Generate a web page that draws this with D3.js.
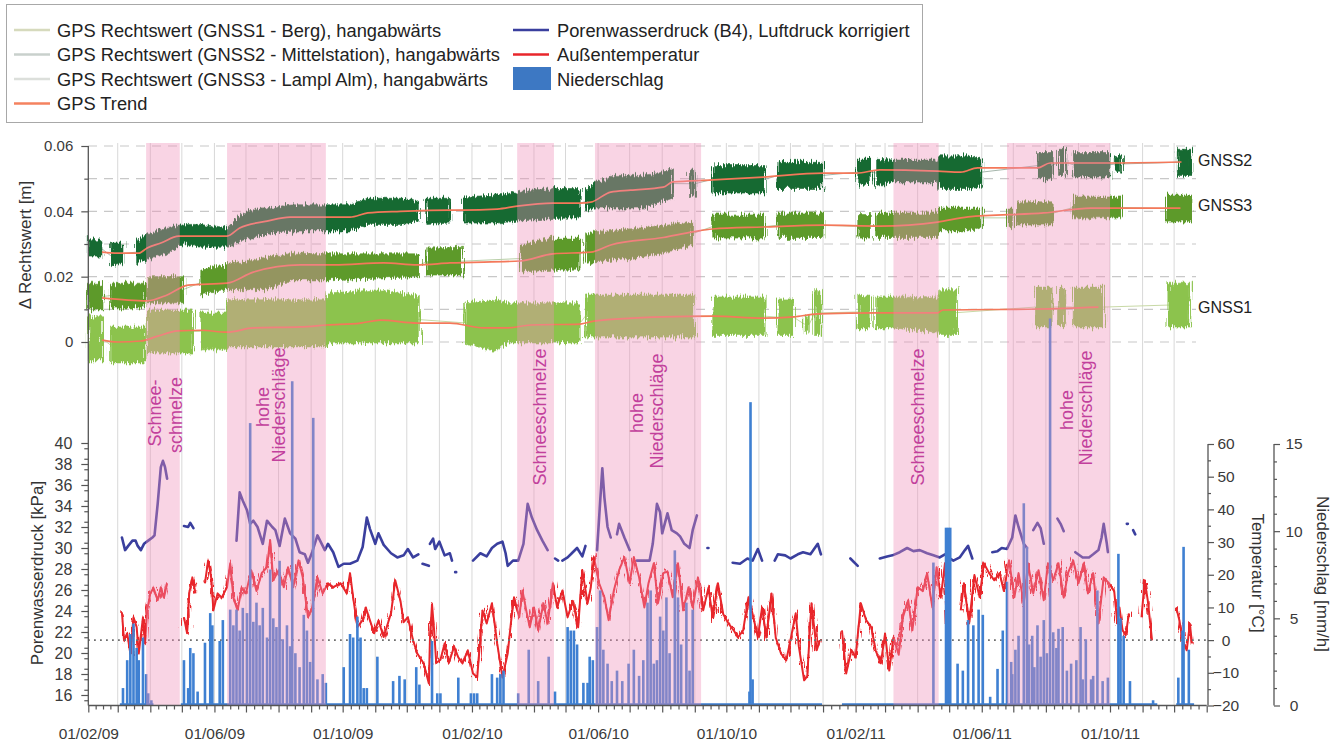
<!DOCTYPE html>
<html><head><meta charset="utf-8">
<script src="https://cdn.jsdelivr.net/npm/d3@7"></script>
<style>
body{margin:0;background:#fff;}
text{font-family:"Liberation Sans",Arial,sans-serif;}
</style>
</head><body>
<svg id="c" width="1343" height="742">
<defs>
 <filter id="bandNoise" x="-1%" y="-30%" width="102%" height="160%">
  <feTurbulence type="fractalNoise" baseFrequency="1.1 0.04" numOctaves="2" seed="4" result="n"/>
  <feDisplacementMap in="SourceGraphic" in2="n" scale="11" xChannelSelector="R" yChannelSelector="G"/>
 </filter>
 <filter id="tempNoise" x="-1%" y="-20%" width="102%" height="140%">
  <feTurbulence type="fractalNoise" baseFrequency="0.7 0.05" numOctaves="2" seed="7" result="n"/>
  <feDisplacementMap in="SourceGraphic" in2="n" scale="13" xChannelSelector="R" yChannelSelector="G"/>
 </filter>
</defs>
</svg>
<script>
// ---------------- DATA (day = days since 01/02/2009) ----------------
// GNSS bands: [day, low, high] in m, null = data gap
const gnss2Band = [[0,.026,.032],[13,.026,.031],null,[21,.023,.030],[33,.024,.030],null,
 [45,.024,.031],[56,.025,.033],[75,.027,.035],[90,.030,.036],[107,.029,.036],[132,.029,.035],[147,.031,.0395],[170,.033,.041],[195,.034,.042],[224,.034,.042],[249,.034,.042],[266,.036,.044],[297,.036,.044],[315,.037,.043],null,
 [322,.036,.044],[344,.0364,.044],null,
 [356,.0364,.0444],[389,.0364,.045],[408,.037,.046],[442,.0378,.047],[468,.038,.047],null,
 [473,.040,.046],[481,.041,.0487],[499,.041,.051],[528,.041,.051],[546,.043,.052],[556,.044,.053],null,
 [572,.0443,.0526],[577,.0443,.0526],null,[594,.0456,.054],[644,.0456,.054],null,
 [656,.047,.055],[699,.047,.055],null,[732,.048,.056],[744,.048,.056],null,
 [749,.0475,.056],[765,.049,.0557],[808,.049,.0557],[809,.047,.057],[837,.047,.057],[850,.048,.056],null,
 [903,.050,.058],[917,.050,.058],null,[923,.051,.059],[930,.051,.059],null,
 [937,.0505,.058],[972,.0505,.058],null,[977,.052,.057],[983,.052,.057],null,[1036,.051,.059],[1050,.051,.059]];
const gnss3Band = [[0,.0098,.018],[13,.0098,.018],null,[21,.0104,.018],[54,.0104,.018],null,
 [56,.012,.020],[90,.012,.020],null,
 [107,.0144,.022],[132,.016,.024],[170,.016,.026],[195,.019,.0272],[224,.019,.027],[315,.020,.027],null,
 [322,.0205,.0288],[356,.0205,.029],null,
 [411,.0214,.0297],[442,.022,.0318],[468,.022,.0318],null,
 [473,.024,.033],[481,.0245,.0337],[528,.026,.035],[556,.028,.036],[575,.0297,.0367],null,
 [594,.0318,.0389],[644,.0318,.0389],null,[656,.032,.0395],[699,.032,.0395],null,
 [732,.0318,.039],[744,.0318,.039],null,
 [749,.032,.0395],[808,.032,.0395],[809,.034,.041],[837,.034,.041],[850,.035,.041],null,
 [875,.035,.041],[880,.035,.041],null,[884,.0358,.0429],[917,.0358,.0429],null,
 [937,.038,.0444],[983,.038,.0444],null,[1025,.0367,.045],[1050,.0367,.045]];
const gnss1Band = [[0,-.0055,.0077],[13,-.0055,.0077],null,[21,-.0064,.0046],[54,-.0064,.0046],null,
 [56,-.0034,.0098],[100,-.0034,.0098],null,
 [107,-.0024,.0089],[131,-.0024,.0089],[133,-.0015,.0129],[227,-.0015,.0129],[228,-.0003,.015],[278,-.0003,.016],[315,-.0003,.014],null,
 [358,-.0003,.012],[388,-.003,.013],[398,-.0003,.012],[468,-.0003,.012],null,
 [473,.0015,.0144],[577,.0015,.0144],null,[594,.002,.0138],[644,.002,.0138],null,
 [656,.002,.0132],[671,.002,.0132],null,[681,.003,.008],[686,.003,.008],null,
 [691,.002,.0158],[697,.002,.0158],null,[732,.004,.0144],[744,.004,.014],null,
 [749,.0043,.0138],[765,.0043,.0138],[808,.003,.0135],[809,.002,.016],[827,.002,.016],null,
 [901,.0046,.0168],[917,.0046,.0168],null,[923,.005,.0165],[930,.005,.0165],null,
 [937,.0046,.0168],[966,.0046,.0168],null,[1027,.0046,.018],[1048,.0046,.018]];
// GPS trends: [day, m]
const gnss2Trend = [[13,.0275],[28,.0272],[48,.0272],[56,.0288],[69,.0303],[86,.0324],[107,.0324],[132,.0324],[144,.0349],[170,.037],[192,.0382],[224,.0382],[249,.0382],[266,.0395],[297,.040],[344,.0404],[356,.0404],[389,.0407],[408,.0416],[442,.0425],[468,.0425],[478,.0428],[497,.0459],[516,.0465],[547,.0474],[556,.049],[594,.0496],[642,.0505],[699,.0517],[731,.0517],[753,.0527],[808,.0523],[830,.052],[846,.0533],[903,.0533],[915,.0548],[966,.0548],[1040,.0551]];
const gnss3Trend = [[13,.0135],[56,.0126],[75,.0144],[95,.0174],[132,.018],[157,.0214],[202,.0236],[234,.0236],[281,.0242],[313,.0236],[344,.0242],[411,.0248],[442,.027],[478,.0275],[497,.0297],[547,.032],[575,.0337],[594,.0346],[642,.0352],[699,.0358],[753,.0355],[808,.0367],[837,.0383],[909,.0395],[954,.041],[1039,.041]];
const gnss1Trend = [[13,.0006],[28,0],[50,.0003],[66,.0018],[85,.0034],[107,.0036],[132,.003],[157,.0043],[202,.0046],[227,.0052],[259,.0058],[278,.0067],[313,.0058],[344,.0058],[376,.0043],[398,.0043],[421,.0052],[468,.0055],[481,.0064],[547,.0077],[594,.0079],[642,.0073],[671,.0077],[694,.0086],[753,.0089],[808,.0089],[813,.0098],[903,.0101],[961,.0107]];
// Porenwasserdruck [kPa]
const poreData = [[32,31.0],[35,29.8],[38,30.2],[42,30.7],[45,30.7],[47,30.2],[50,29.8],[53,30.4],[57,30.7],[61,31.0],[63,31.2],[66,34.2],[69,37.7],[71,38.3],[73,37.7],[75,36.6],null,
 [91,32.1],[95,32.0],[97,32.4],[100,31.9],null,
 [141,30.7],[144,35.3],[147,34.5],[151,33.6],[154,32.3],[157,32.6],[161,32.0],[166,30.4],[170,32.6],[175,32.0],[178,31.7],[182,30.2],[187,32.8],[192,31.4],[197,30.9],[201,29.6],[206,29.4],[209,28.6],[213,29.6],[218,31.2],[223,30.2],[225,29.8],[228,30.4],[233,29.6],[238,28.2],[243,28.5],[249,28.5],[256,28.8],[261,30.1],[265,32.9],[268,31.8],[273,30.4],[276,31.4],[281,30.3],[288,29.5],[294,29.1],[300,29.3],[304,29.9],[309,29.1],[314,29.4],null,
 [318,28.5],[324,28.3],null,
 [325,30.4],[328,30.9],[330,29.9],[334,30.6],[339,29.3],[344,29.5],[346,28.8],null,
 [349,27.7],[350,27.7],null,
 [366,28.8],[373,29.5],[379,29.2],[384,30.0],[389,30.4],[394,30.6],[397,29.5],[399,28.3],[404,28.8],[409,28.8],[414,30.4],[418,34.2],[422,32.9],[427,31.7],[432,30.7],[437,29.8],null,
 [444,29.0],[447,28.8],null,
 [451,28.8],[456,29.1],[460,29.5],[465,30.0],[470,29.2],[473,30.2],null,
 [484,29.8],[486,32.9],[489,37.6],[491,34.8],[494,32.0],[497,31.0],null,
 [503,31.3],[505,32.3],[510,31.0],[515,29.8],null,
 [522,28.8],[527,28.8],[534,28.8],[537,30.4],[541,34.2],[544,33.4],[546,31.4],[551,33.3],[555,31.7],[560,31.4],[563,31.1],[567,30.4],[572,30.0],[575,31.7],[579,33.1],null,
 [589,30.0],[590,30.0],null,
 [613,28.6],[620,28.5],[627,29.0],[632,28.8],[637,29.9],[641,28.8],null,
 [653,28.8],[656,29.4],[663,29.3],[668,29.0],[675,29.4],[680,29.6],[687,29.4],[694,30.4],[697,29.4],null,
 [725,29.0],[732,28.3],null,
 [753,29.0],[760,29.2],[765,29.3],[772,29.6],[779,30.0],[785,29.7],[791,29.8],[798,29.5],[804,29.3],[810,29.1],[815,29.4],[818,29.1],[823,28.8],[829,29.1],[834,29.8],[837,30.2],[841,29.0],null,
 [860,29.6],[865,29.7],[869,30.0],[874,29.9],[879,31.0],[882,33.1],[885,32.0],[890,30.4],[893,30.0],null,
 [899,31.7],[903,32.4],[906,31.9],[909,30.4],null,
 [922,32.8],[925,32.3],[928,31.6],null,
 [939,29.6],[946,29.1],[952,29.1],[956,29.4],[961,29.8],[964,31.0],[966,32.3],[969,30.4],[970,29.6],null,
 [988,32.3],[989,32.3],null,[994,31.7],[996,31.3]];
// Außentemperatur [°C]
const tempData = [[32,8.5],[34,-0.1],[37,2.1],[40,-4.1],[43,7.0],[46,4],[48,-4.1],[52,7.0],[54,-1.0],[56,9.1],[59,14.3],[62,16],[66,12.2],[69,16.2],[72,13],[75,17.4],null,
 [91,7.0],[94,2.1],[96,14.3],[99,19.2],[102,14.3],null,
 [111,17.4],[114,24.4],[117,19],[119,9.1],[123,14.3],[127,13],[132,16.2],[135,23.5],[138,13],[142,9.1],[146,16],[150,14.3],[155,21.4],[160,15],[165,20.5],[170,22.3],[173,30.6],[176,18.3],[181,21.4],[186,16.2],[190,22.3],[195,16.2],[200,24.4],[204,19.2],[209,7.0],[213,10.0],[218,19.2],[223,14.3],[228,17.4],[233,16.2],[240,17.4],[246,14.3],[249,20.5],[252,13],[256,4],[261,6.1],[264,10.0],[267,7],[272,2.1],[276,6],[281,1],[288,8.2],[292,18.3],[297,12],[300,5.5],[304,7],[309,-0.1],[313,-4.1],[319,-7.1],[324,-13.3],[325,0],[327,11],[329,3],[331,-7],[335,-6],[339,-1],[343,-7],[348,-2],[352,-5.3],[356,-7.1],[361,-3.1],[366,-10.2],[370,-11.4],[375,9.1],[379,5.1],[384,11.3],[389,-1.0],[394,-11.4],[399,-4.1],[402,5.1],[405,13.1],[410,7.0],[413,15.2],[417,8.5],[420,3.9],[424,10.0],[428,3.0],[433,11.3],[437,5],[442,17.4],[446,10.0],[451,15.2],[456,7.0],[461,12],[466,3.9],[470,21.4],[475,11.3],[478,16],[481,25.4],[486,17.4],[491,13.1],[495,6.1],[500,15.2],[505,21.4],[510,25.4],[515,17.4],[519,25.4],[524,19.2],[529,10.0],[533,17.5],[538,23.5],[542,11.3],[547,20.5],[551,21],[556,13.1],[561,23.5],[566,9.1],[571,16.2],[575,10.0],[580,19.2],[585,9.1],[590,16],[594,7.0],[599,17.4],[604,8],[609,5.1],[614,3.0],[618,0.8],[623,3],[628,13.1],[632,8],[637,0.8],[641,10],[645,0.8],[650,14.3],[654,0.8],[659,-4.1],[664,-6.2],[668,0],[673,8.2],[676,-2],[681,-12.3],[684,-11],[688,11.3],[693,-3.1],[696,0],null,
 [717,3.0],[721,-10.2],[726,-3],[730,-5.3],[735,11.3],[740,6.1],[745,3.9],[749,-3.1],[754,-7.1],[758,2],[762,-9.3],[766,0.8],[771,-4.5],[775,7],[780,12.2],[784,3],[789,16.2],[794,15],[798,20.5],[803,10.0],[807,22.3],[811,13],[815,23.5],[818,0],null,
 [830,9.1],[833,17.4],[838,5.1],[843,19.9],[848,13.1],[852,23.5],[857,20.5],[862,18.3],[867,20.5],[871,15],[876,24.4],[881,13.1],[885,20.5],[890,11.3],[894,23.5],[899,14.3],[904,21.4],[909,12.2],[913,23.5],[918,18.3],[923,23.5],[928,13],[932,20.5],[937,24.4],[942,17.4],[947,23.5],[951,14.3],[956,20.5],[961,5.1],[966,19.2],[971,17.4],[976,15],[979,5.1],[981,10],[984,3.0],[987,1.5],[990,8.2],null,
 [1002,7.0],[1005,18.3],[1008,12],[1012,-0.1],null,
 [1035,10.0],[1038,6.1],[1041,0],[1045,-3.1],[1048,5],[1050,-1]];
// Niederschlag [mm/h]
const precipData = [[33,1.0],[37,2.6],[40,4.1],[43,4.7],[46,3.3],[48,2.6],[52,3.9],[55,1.8],[57,0.7],[60,0.3],
 [91,2.6],[95,1.0],[97,3.3],[100,3.0],[104,0.8],
 [111,3.6],[116,5.3],[118,4.6],[125,3.7],[128,4.9],[135,5.5],[138,4.6],[141,5.5],[144,4.3],[147,5.6],[151,5.3],[154,16.2],[157,4.8],[160,5.9],[163,4.6],[166,5.6],[170,3.9],[173,7.8],[176,5],[179,4.5],[182,8.3],[185,3.8],[189,4.6],[192,3.4],[194,18.6],[197,3.0],[201,2.2],[205,5.2],[208,4.3],[211,2.5],[214,16.5],[218,1.5],[223,1.8],[226,1.3],
 [243,2.2],[249,4.1],[252,3.9],[256,5.1],[259,3.9],[262,1.0],[265,1.0],[275,2.8],[290,1.4],[296,1.7],[301,1.5],[312,2.2],[315,1.2],[327,3.7],[332,0.7],[335,0.7],[352,1.6],[364,0.7],[367,0.7],[370,0.7],[384,1.8],[389,1.6],[392,1.8],[395,2.0],[409,0.7],[419,3.2],[428,1.4],[438,2.8],[444,0.8],[456,4.5],[459,4.3],[462,4.3],[465,3.5],[471,1.3],[475,1.3],[477,2.8],[480,2.6],[484,4.5],[487,6.6],[490,3.2],[494,2.4],[498,1.4],[503,2.0],[508,1.4],[514,2.4],[519,3.2],[524,1.7],[528,2.6],[532,5.9],[535,6.6],[538,2.4],[541,2.6],[544,5.1],[547,4.3],[550,6.2],[553,3.0],[558,8.9],[561,6.2],[564,3.5],[569,5.9],[572,2.0],[575,5.5],
 [629,0.8],[630,17.4],[632,1.5],
 [804,8.2],[816,10.2],[818,10.2],[820,10.2],[827,2.4],[832,2.0],[837,4.9],[842,4.6],[847,5.5],[851,5.2],[858,0.5],[865,2.1],[870,4.3],[874,7.1],[878,2.5],[879,1.8],[882,3.2],[885,4.0],[890,11.6],[893,9.1],[895,3.5],[898,4.0],[900,2.2],[903,4.6],[906,2.8],[909,4.9],[912,3.0],[915,22.2],[918,4.2],[921,3.3],[923,4.4],[927,4.5],[931,2.0],[935,2.4],[940,2.6],[944,4.5],[946,1.5],[949,3.8],[954,1.5],[956,1.7],[960,6.6],[965,1.4],[970,1.6],[980,8.7],[982,5],[985,4],[991,1.4],[1013,0.3],[1037,1.6],[1041,4.3],[1042,9.1],[1047,3.2]];
const precipCoverage = [[30,62],[88,698],[717,1017],[1035,1052]];
// highlighted periods [startDay, endDay, label lines]
const periods = [[55,87,["Schnee-","schmelze"]],[132,226,["hohe","Niederschläge"]],[408,443,["Schneeschmelze"]],[482,583,["hohe","Niederschläge"]],[766,809,["Schneeschmelze"]],[874,972,["hohe","Niederschläge"]]];
const xLabelDates = ["2009-02-01","2009-06-01","2009-10-01","2010-02-01","2010-06-01","2010-10-01","2011-02-01","2011-06-01","2011-10-01"];
const topTicks = [0,0.02,0.04,0.06];
const poreTicks = [16,18,20,22,24,26,28,30,32,34,36,38,40];
const tempTicks = [-20,-10,0,10,20,30,40,50,60];
const precipTicks = [0,5,10,15];
const legendItems = [
 ["GPS Rechtswert (GNSS1 - Berg), hangabwärts","line","#d6dabd"],
 ["GPS Rechtswert (GNSS2 - Mittelstation), hangabwärts","line","#c9d0cc"],
 ["GPS Rechtswert (GNSS3 - Lampl Alm), hangabwärts","line","#dcdfdb"],
 ["GPS Trend","line","#f4825f"],
 ["Porenwasserdruck (B4), Luftdruck korrigiert","line","#3a3f9e"],
 ["Außentemperatur","line","#e8262b"],
 ["Niederschlag","box","#3d78c3"]];
const gnssLabels = [["GNSS2",0.0552],["GNSS3",0.0417],["GNSS1",0.0107]];

// ---------------- CHART ----------------
const svg = d3.select("#c");
const t0 = new Date(2009,1,1), t1 = new Date(2012,0,1);
const D = d => new Date(t0.getTime() + d*864e5);
const x = d3.scaleTime().domain([t0,t1]).range([88.3,1206.7]);
const yTop = d3.scaleLinear().domain([0,0.06]).range([342,146]);
const yP = d3.scaleLinear().domain([15,40]).range([705.5,443]);
const yT = d3.scaleLinear().domain([-20,60]).range([705.5,444]);
const yR = d3.scaleLinear().domain([0,15]).range([705.5,444]);
const axisCol = "#555";

// legend
const lg = svg.append("g");
lg.append("rect").attr("x",6.5).attr("y",4.5).attr("width",916).attr("height",118)
  .attr("fill","#fff").attr("stroke","#a8a8a8");
legendItems.forEach((it,i)=>{
  const col = i<4?0:1, row = i<4?i:i-4;
  const sx = col?513:14, tx = col?557:57, cy = 30+row*24.5;
  if(it[1]==="line") lg.append("line").attr("x1",sx).attr("x2",sx+36).attr("y1",cy).attr("y2",cy)
     .attr("stroke",it[2]).attr("stroke-width",2.5);
  else lg.append("rect").attr("x",sx).attr("y",cy-12).attr("width",38).attr("height",23).attr("fill",it[2]);
  lg.append("text").attr("x",tx).attr("y",cy).attr("dominant-baseline","central")
    .attr("font-size","18.3px").attr("fill","#222").text(it[0]);
});

// vertical month gridlines
const months = d3.timeMonth.range(d3.timeMonth.offset(t0,1), t1);
svg.append("g").selectAll("line").data(months).join("line")
  .attr("x1",d=>x(d)).attr("x2",d=>x(d)).attr("y1",143).attr("y2",705)
  .attr("stroke","#d8d8d8").attr("stroke-width",1);
// horizontal dashed gridlines (top)
svg.append("g").selectAll("line").data(d3.range(0,0.0601,0.01)).join("line")
  .attr("x1",88).attr("x2",1196).attr("y1",d=>yTop(d)).attr("y2",d=>yTop(d))
  .attr("stroke","#c8c8c8").attr("stroke-width",1.2).attr("stroke-dasharray","9,7");

// GNSS bands
const bandArea = d3.area().defined(d=>d).x(d=>x(D(d[0]))).y0(d=>yTop(d[1])).y1(d=>yTop(d[2]));
const midLine = d3.line().x(d=>x(D(d[0]))).y(d=>yTop((d[1]+d[2])/2));
const bandG = svg.append("g");
[[gnss1Band,"#8cc34e","#c8d9a6"],[gnss3Band,"#5d9a2b","#b9cfa8"],[gnss2Band,"#176a32","#a6b6ac"]].forEach(([b,c,lc])=>{
  bandG.append("path").attr("d",midLine(b.filter(d=>d))).attr("fill","none").attr("stroke",lc).attr("stroke-width",1);
  bandG.append("path").attr("d",bandArea(b)).attr("fill",c).attr("stroke",c).attr("stroke-width",0.6)
    .attr("filter","url(#bandNoise)");
});
// trends
const trendLine = d3.line().x(d=>x(D(d[0]))).y(d=>yTop(d[1])).curve(d3.curveMonotoneX);
[gnss1Trend,gnss3Trend,gnss2Trend].forEach(t=>{
  svg.append("path").attr("d",trendLine(t)).attr("fill","none").attr("stroke","#f4785a").attr("stroke-width",1.7);
});

// temperature: continuous trace plus jittered copy for texture
const tLine = d3.line().defined(d=>d).x(d=>x(D(d[0]))).y(d=>yT(d[1]));
svg.append("path").attr("d",tLine(tempData)).attr("fill","none").attr("stroke","#e8262b")
  .attr("stroke-width",2).attr("stroke-linejoin","round");
svg.append("path").attr("d",tLine(tempData)).attr("fill","none").attr("stroke","#e8262b")
  .attr("stroke-width",1.5).attr("stroke-linejoin","round").attr("filter","url(#tempNoise)");
// zero line
svg.append("line").attr("x1",88).attr("x2",1208).attr("y1",yT(0)).attr("y2",yT(0))
  .attr("stroke","#6f6f6f").attr("stroke-width",1.8).attr("stroke-dasharray","1.8,4.2");
// pore pressure
const pLine = d3.line().defined(d=>d).x(d=>x(D(d[0]))).y(d=>yP(d[1]));
svg.append("path").attr("d",pLine(poreData)).attr("fill","none").attr("stroke","#3a3f9e")
  .attr("stroke-width",2.6).attr("stroke-linejoin","round").attr("stroke-linecap","round");
// precipitation
svg.append("g").selectAll("line").data(precipCoverage).join("line")
  .attr("x1",d=>x(D(d[0]))).attr("x2",d=>x(D(d[1]))).attr("y1",yR(0)-1).attr("y2",yR(0)-1)
  .attr("stroke","#3b7dd0").attr("stroke-width",2.5);
svg.append("g").selectAll("rect").data(precipData).join("rect")
  .attr("x",d=>x(D(d[0]))-1.3).attr("width",2.6)
  .attr("y",d=>yR(d[1])).attr("height",d=>yR(0)-yR(d[1]))
  .attr("fill","#3f80d2");

// pink periods (overlay)
svg.append("g").selectAll("rect").data(periods).join("rect")
  .attr("x",d=>x(D(d[0]))).attr("width",d=>x(D(d[1]))-x(D(d[0])))
  .attr("y",143).attr("height",705-143)
  .attr("fill","#ee8fb8").attr("opacity",0.38);
// period labels
const labelPos = [[[155,413],[176,415]],[[263,407],[279,405]],[[540,417]],[[637,413],[657,411]],[[918,417]],[[1067,410],[1086,408]]];
periods.forEach((p,i)=>{
  p[2].forEach((s,j)=>{
    const [lx,ly] = labelPos[i][j];
    svg.append("text").attr("transform",`translate(${lx},${ly}) rotate(-90)`)
      .attr("text-anchor","middle").attr("dominant-baseline","central")
      .attr("font-size","18px").attr("fill","#c2409c").text(s);
  });
});

// ---------------- AXES ----------------
function styleAxis(g, fs){
  g.select(".domain").remove();
  g.selectAll("line").attr("stroke",axisCol).attr("stroke-width",1.2);
  g.selectAll("text").attr("fill","#3a3a3a").attr("font-size",fs).attr("font-family","Liberation Sans, Arial, sans-serif");
}
svg.append("line").attr("x1",88.3).attr("x2",88.3).attr("y1",146).attr("y2",705.5).attr("stroke",axisCol).attr("stroke-width",1.3);
let g = svg.append("g").attr("transform","translate(88.3,0)")
  .call(d3.axisLeft(yTop).tickValues(topTicks).tickSize(7).tickPadding(8).tickFormat(d=>d===0?"0":d3.format(".2f")(d)));
styleAxis(g,"15px");
g = svg.append("g").attr("transform","translate(88.3,0)")
  .call(d3.axisLeft(yTop).tickValues([0.01,0.03,0.05]).tickSize(4).tickFormat(""));
styleAxis(g,"15px");
g = svg.append("g").attr("transform","translate(88.3,0)")
  .call(d3.axisLeft(yP).tickValues(poreTicks).tickSize(7).tickPadding(9));
styleAxis(g,"16px");
g = svg.append("g").attr("transform","translate(88.3,0)")
  .call(d3.axisLeft(yP).tickValues(d3.range(15.5,40,1)).tickSize(4).tickFormat(""));
styleAxis(g,"16px");
svg.append("line").attr("x1",1208).attr("x2",1208).attr("y1",444).attr("y2",705.5).attr("stroke",axisCol).attr("stroke-width",1.3);
g = svg.append("g").attr("transform","translate(1208,0)")
  .call(d3.axisRight(yT).tickValues(tempTicks).tickSize(6).tickFormat(d3.format("d")));
styleAxis(g,"15.5px");
g.selectAll("text").attr("x",18).attr("text-anchor","middle");
g = svg.append("g").attr("transform","translate(1208,0)")
  .call(d3.axisRight(yT).tickValues(d3.range(-15,60,10)).tickSize(3).tickFormat(""));
styleAxis(g,"15px");
svg.append("line").attr("x1",1274).attr("x2",1274).attr("y1",444).attr("y2",705.5).attr("stroke",axisCol).attr("stroke-width",1.3);
g = svg.append("g").attr("transform","translate(1274,0)")
  .call(d3.axisRight(yR).tickValues(precipTicks).tickSize(6));
styleAxis(g,"15.5px");
g.selectAll("text").attr("x",20).attr("text-anchor","middle");
g = svg.append("g").attr("transform","translate(1274,0)")
  .call(d3.axisRight(yR).tickValues(d3.range(1,15,1).filter(v=>v%5)).tickSize(3).tickFormat(""));
styleAxis(g,"15px");
svg.append("line").attr("x1",88.3).attr("x2",1206.7).attr("y1",705.5).attr("y2",705.5).attr("stroke",axisCol).attr("stroke-width",1.3);
g = svg.append("g").attr("transform","translate(0,705.5)")
  .call(d3.axisBottom(x).tickValues(d3.timeMonth.range(t0,d3.timeDay.offset(t1,1))).tickSize(7).tickFormat(""));
styleAxis(g,"15px");
const minor = [];
d3.timeMonth.range(t0,t1).forEach(m=>{
  const n = d3.timeMonth.offset(m,1);
  [0.25,0.5,0.75].forEach(f=>minor.push(new Date(+m + f*(n-m))));
});
g = svg.append("g").attr("transform","translate(0,705.5)")
  .call(d3.axisBottom(x).tickValues(minor).tickSize(4).tickFormat(""));
styleAxis(g,"15px");
const parse = d3.timeParse("%Y-%m-%d");
g = svg.append("g").attr("transform","translate(0,705.5)")
  .call(d3.axisBottom(x).tickValues(xLabelDates.map(parse)).tickSize(0).tickPadding(22).tickFormat(d3.timeFormat("%d/%m/%y")));
styleAxis(g,"15.5px");

const titles = [["Δ Rechtswert [m]",25,245,-90],["Porenwasserdruck [kPa]",37,573,-90],["Temperatur [°C]",1257,573,90],["Niederschlag [mm/h]",1322,574,90]];
titles.forEach(t=>{
  svg.append("text").attr("transform",`translate(${t[1]},${t[2]}) rotate(${t[3]})`)
    .attr("text-anchor","middle").attr("dominant-baseline","central")
    .attr("font-size","17px").attr("fill","#333").text(t[0]);
});
svg.append("g").selectAll("text").data(gnssLabels).join("text")
  .attr("x",1198).attr("y",(d,i)=>[160,205,307][i]).attr("dominant-baseline","central")
  .attr("font-size","16px").attr("fill","#222").text(d=>d[0]);
</script>
</body></html>
